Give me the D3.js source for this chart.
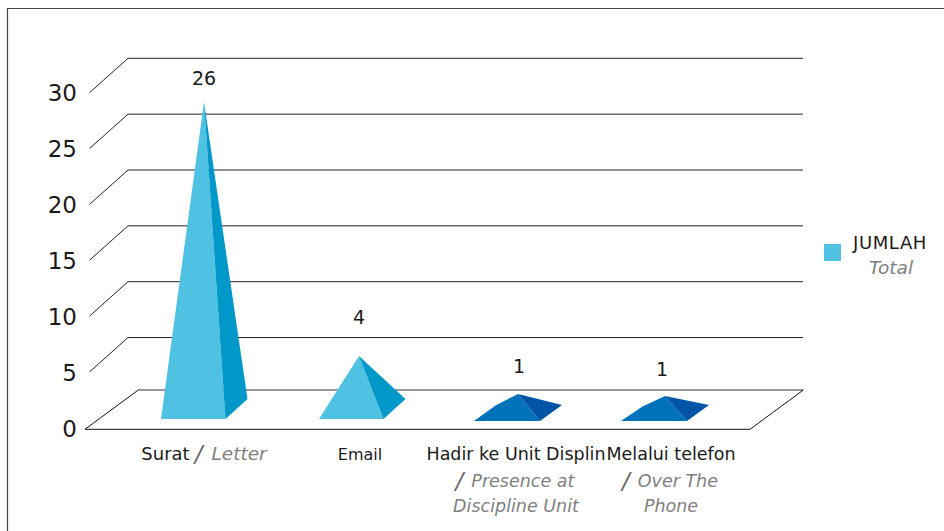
<!DOCTYPE html>
<html><head><meta charset="utf-8">
<style>html,body{margin:0;padding:0;background:#fff}svg{display:block}
text{font-family:"DejaVu Sans",sans-serif}</style>
<script src="https://cdn.jsdelivr.net/npm/d3@7"></script></head>
<body><svg id="c" width="944" height="531"></svg>
<script>
const categories = ["Surat","Email","Hadir ke Unit Displin","Melalui telefon"];
const englishLines = [["Letter"],[],["Presence at","Discipline Unit"],["Over The","Phone"]];
const values = [26,4,1,1];
const yTicks = [0,5,10,15,20,25,30];
const seriesName = "JUMLAH";
const seriesEnglish = "Total";
const perspectiveX = [0,3,3,-5];
const perspectiveY = [0,0,-1,1];
const labelLift = [17,32,21,20];
const labelShift = [0,0,1,-3];
const labelSizes = [18,16,17.5,17.5];

const svg = d3.select("#c");
const ink="#1a1a1a", gray="#808080", slashInk="#666";
svg.append("path").attr("d","M7.5,531V8.5H944").attr("fill","none").attr("stroke","#444").attr("stroke-width",1.2);

const y = d3.scaleLinear().domain([0,30]).range([427.8,92.7]);
const x = d3.scalePoint().domain(categories).range([204,669]);
// pyramid apex height: foreshortened scale of the 3D view
const h = d3.scaleLinear().domain([1,4,26]).range([395,356,102]);
const dx=38.5, dy=-34.4;

const grid = svg.append("g").attr("fill","none");
yTicks.filter(t=>t>0).forEach(t=>{
  const p=d3.path(); p.moveTo(89.5,y(t)); p.lineTo(89.5+dx,y(t)+dy); p.lineTo(803,y(t)+dy);
  grid.append("path").attr("d",p).attr("stroke","#222").attr("stroke-width",1);
});
const fy=y(0)+1.5;
grid.append("path").attr("d",`M138.3,${fy-39.3}H803.3`).attr("stroke","#777").attr("stroke-width",1.6);
grid.append("path").attr("d",`M138.3,${fy-39.3}L85,${fy}H750L803.3,${fy-39.3}`).attr("stroke","#111").attr("stroke-width",1);

const axis = d3.axisLeft(y).tickValues(yTicks).tickSize(0).tickPadding(0);
const ag = svg.append("g").attr("transform","translate(77,0)").call(axis);
ag.select(".domain").remove();
ag.selectAll("text").attr("font-size",23).attr("fill",ink).attr("dy",null).attr("y",8.2)
  .style("font-family",'"DejaVu Sans",sans-serif');

values.forEach((v,i)=>{
  const small = v<=1;
  const c = x(categories[i]);
  const left = c-43+perspectiveX[i];
  const w = small?66:64.5, by = small?421:419, ddx=22, ddy= small?-16:-20;
  const ax = left + (small?44:(v>10?43:40));
  const ay = h(v)+perspectiveY[i];
  const front = small?"#0071bb":"#4fc1e2", side = small?"#0054a6":"#0097c9";
  const kink = small? `L${(left+ax)/2-0.5},${(by+ay)/2-2}` : "";
  svg.append("path").attr("d",`M${left},${by}${kink}L${ax},${ay}L${left+w},${by}Z`).attr("fill",front);
  svg.append("path").attr("d",`M${left+w},${by}L${ax},${ay}L${left+w+ddx},${by+ddy}Z`).attr("fill",side);
  svg.append("text").attr("x",ax+labelShift[i]).attr("y",ay-labelLift[i]).attr("text-anchor","middle")
    .attr("font-size",19).attr("fill",ink).text(v);
});

categories.forEach((cat,i)=>{
  const cx = x(cat)+ (i>=2?1:0);
  const g = svg.append("g").attr("text-anchor","middle").attr("font-size",labelSizes[i]);
  const en = englishLines[i];
  if(en.length===1){
    const t=g.append("text").attr("x",cx).attr("y",460);
    t.append("tspan").attr("fill",ink).text(cat);
    t.append("tspan").attr("dx",5).attr("fill",slashInk).attr("font-style","italic").attr("font-size",23).attr("dy",2).text("/");
    t.append("tspan").attr("dx",9).attr("dy",-2).attr("fill",gray).attr("font-style","italic").attr("font-size",18.5).text(en[0]);
  } else {
    g.append("text").attr("x",cx+1).attr("y",460).attr("fill",ink).text(cat);
    en.forEach((line,j)=>{
      const t=g.append("text").attr("x",cx+(j===1?1:0)).attr("y",j===0?487:512).attr("font-style","italic");
      if(j===0){
        t.append("tspan").attr("fill",slashInk).attr("font-size",23).attr("dy",2).text("/");
        t.append("tspan").attr("dx",8).attr("dy",-2).attr("fill",gray).text(line);
      } else t.append("tspan").attr("fill",gray).text(line);
    });
  }
});

svg.append("rect").attr("x",824).attr("y",244).attr("width",17).attr("height",17).attr("fill","#4fc1e2");
svg.append("text").attr("x",890).attr("y",249).attr("text-anchor","middle").attr("font-size",18).attr("letter-spacing",0.6).attr("fill",ink).text(seriesName);
svg.append("text").attr("x",891).attr("y",274).attr("text-anchor","middle").attr("font-size",18.5).attr("font-style","italic").attr("fill",gray).text(seriesEnglish);
</script></body></html>
